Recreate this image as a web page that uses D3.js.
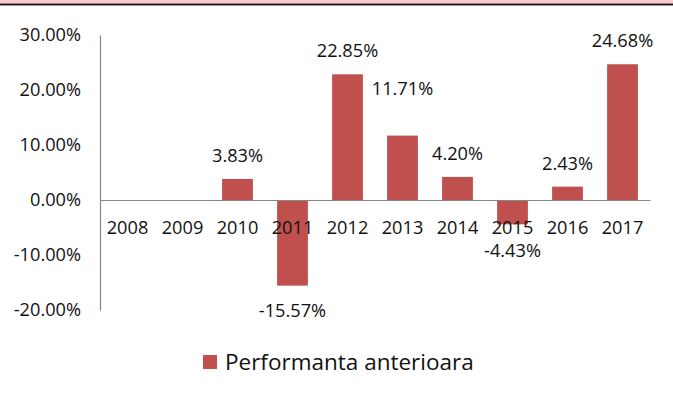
<!DOCTYPE html>
<html>
<head>
<meta charset="utf-8">
<script src="https://cdn.jsdelivr.net/npm/d3@7"></script>
<style>
  body { margin: 0; background: #fff; }
  text { font-family: "Open Sans", sans-serif; fill: #111; }
</style>
</head>
<body>
<div id="chart"></div>
<script>
let years = ["2008", "2009", "2010", "2011", "2012", "2013", "2014", "2015", "2016", "2017"]
let performance = [null, null, 0.0383, -0.1557, 0.2285, 0.1171, 0.0420, -0.0443, 0.0243, 0.2468]
let valueLabels = ["", "", "3.83%", "-15.57%", "22.85%", "11.71%", "4.20%", "-4.43%", "2.43%", "24.68%"]
let yTicks = [-0.2, -0.1, 0, 0.1, 0.2, 0.3]
let yTickLabels = ["-20.00%", "-10.00%", "0.00%", "10.00%", "20.00%", "30.00%"]
let seriesName = "Performanta anterioara"

let width = 673, height = 401
let barColor = "#c0504d"
let axisColor = "#868686"

let svg = d3.select("#chart")
    .append("svg")
    .attr("width", width)
    .attr("height", height)

// top border strip
svg.append("rect").attr("x", 0).attr("y", 0).attr("width", width).attr("height", 3.5).attr("fill", "#fdcbcd")
svg.append("rect").attr("x", 0).attr("y", 3.5).attr("width", width).attr("height", 1.5).attr("fill", "#1a1a1a")
svg.append("rect").attr("x", 0).attr("y", 5).attr("width", width).attr("height", 1).attr("fill", "#9a9a9a")

let x = d3.scaleBand()
    .domain(years)
    .range([100, 650])
    .paddingInner(0.44)
    .paddingOuter(0.22)

let y = d3.scaleLinear()
    .domain([-0.2, 0.3])
    .range([310, 35])

// y axis
let yAxis = svg.append("g")
    .attr("transform", "translate(100,0)")
    .call(d3.axisLeft(y)
        .tickValues(yTicks)
        .tickSize(0)
        .tickPadding(19)
        .tickFormat((d, i) => yTickLabels[i]))
yAxis.select(".domain").attr("stroke", axisColor).attr("stroke-width", 1.2)
yAxis.selectAll("text").style("font-size", "18.2px").attr("fill", "#111")

let data = years.map((yr, i) => ({ year: yr, value: performance[i], label: valueLabels[i] }))

// bars
svg.append("g")
    .selectAll("rect")
    .data(data.filter(d => d.value !== null))
    .enter()
    .append("rect")
    .attr("x", d => x(d.year))
    .attr("width", x.bandwidth())
    .attr("y", d => y(Math.max(0, d.value)))
    .attr("height", d => Math.abs(y(d.value) - y(0)))
    .attr("fill", barColor)

// x axis at zero
let xAxis = svg.append("g")
    .attr("transform", "translate(0," + y(0) + ")")
    .call(d3.axisBottom(x).tickSize(0).tickPadding(21).tickSizeOuter(0))
xAxis.select(".domain").attr("stroke", axisColor).attr("stroke-width", 1.2)
xAxis.selectAll("text").style("font-size", "18.2px").attr("fill", "#111")

// value labels (2013 label sits higher in the original)
let labelShift = { "2013": -24, "2015": 2 }
svg.append("g")
    .selectAll("text")
    .data(data.filter(d => d.value !== null))
    .enter()
    .append("text")
    .attr("text-anchor", "middle")
    .attr("x", d => x(d.year) + x.bandwidth() / 2)
    .attr("y", d => {
        let base = d.value >= 0 ? y(d.value) - 17 : y(d.value) + 31
        return base + (labelShift[d.year] || 0)
    })
    .style("font-size", "18.2px")
    .text(d => d.label)

// legend
svg.append("rect")
    .attr("x", 203).attr("y", 355)
    .attr("width", 14).attr("height", 14)
    .attr("fill", barColor)
svg.append("text")
    .attr("x", 225).attr("y", 370)
    .style("font-size", "22.5px")
    .text(seriesName)
</script>
</body>
</html>
